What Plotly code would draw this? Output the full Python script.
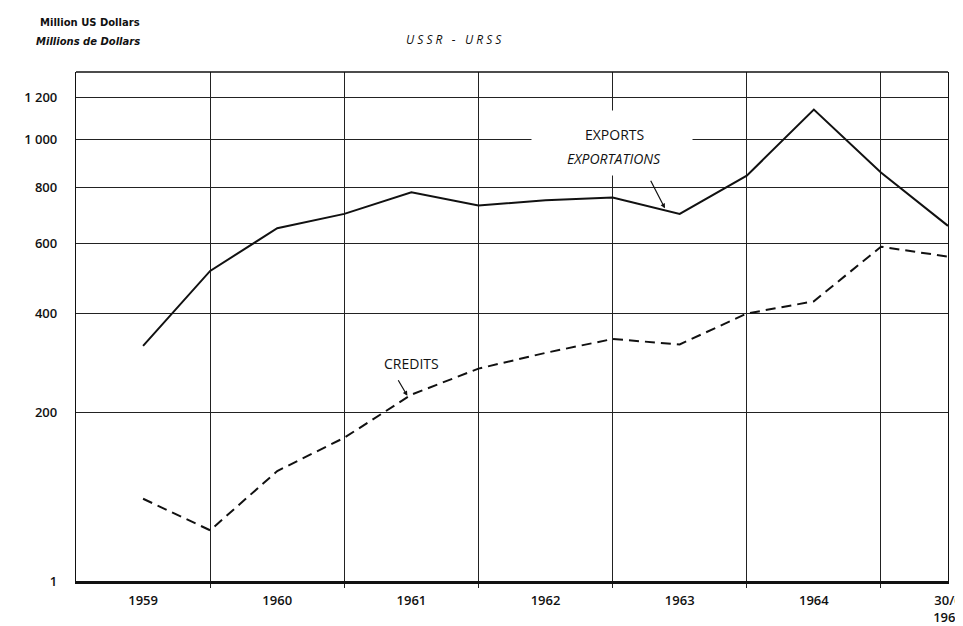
import plotly.graph_objects as go

# ---- data ----
periods = [1959.5, 1960.0, 1960.5, 1961.0, 1961.5, 1962.0, 1962.5,
           1963.0, 1963.5, 1964.0, 1964.5, 1965.0, 1965.5]
exports = [325, 515, 650, 700, 780, 730, 750, 760, 700, 845, 1140, 858, 658]
credits = [92, 65, 121, 163, 230, 278, 310, 340, 328, 400, 431, 589, 558]

x_label_pos = [1959.5, 1960.5, 1961.5, 1962.5, 1963.5, 1964.5, 1965.5]
x_labels = ["1959", "1960", "1961", "1962", "1963", "1964", "30/6<br>1965"]
year_bounds = [1960, 1961, 1962, 1963, 1964, 1965]

y_ticks = [200, 400, 600, 800, 1000, 1200]
y_tick_text = ["200", "400", "600", "800", "1 000", "1 200"]
axis_floor = 33.4      # bottom of the (broken) axis, labelled "1"
axis_top = 1334

# the original uses a compressed (power-like) vertical scale
P = 0.35
def scale(v):
    return v ** P

TICKFONT = "'Open Sans', 'DejaVu Sans', sans-serif"
SMALLFONT = "'DejaVu Sans', sans-serif"

fig = go.Figure()
fig.add_trace(go.Scatter(
    x=periods, y=[scale(v) for v in exports], mode="lines",
    line=dict(color="#111", width=2), name="Exports", showlegend=False))
fig.add_trace(go.Scatter(
    x=periods, y=[scale(v) for v in credits], mode="lines",
    line=dict(color="#111", width=2, dash="10px,6px"), name="Credits",
    showlegend=False))

fig.update_xaxes(
    range=[1959.0, 1965.5],
    tickmode="array", tickvals=x_label_pos, ticktext=x_labels,
    showgrid=False, ticks="", ticklabeloverflow="allow", ticklabelstandoff=6,
    tickfont=dict(family=TICKFONT, size=13, color="#111", weight=600),
    showline=True, linecolor="#111", linewidth=2.5, mirror=False,
    zeroline=False,
    minor=dict(tickvals=year_bounds, showgrid=True, gridcolor="#222",
               gridwidth=1.2, ticks="outside", ticklen=4, tickcolor="#222"),
)
fig.update_yaxes(
    range=[scale(axis_floor), scale(axis_top)],
    tickmode="array",
    tickvals=[scale(axis_floor)] + [scale(v) for v in y_ticks],
    ticktext=["1"] + y_tick_text,
    showgrid=True, gridcolor="#222", gridwidth=1.2,
    ticks="", ticklabelstandoff=15,
    tickfont=dict(family=TICKFONT, size=13, color="#111", weight=600),
    showline=True, linecolor="#111", linewidth=1.3, mirror=True,
    zeroline=False,
)

def px_x(p):
    return (p - 68) / 887.0

def px_y(p):
    return (579 - p) / 515.0

annotations = [
    dict(text="Million US Dollars", x=px_x(135), y=px_y(14), xref="paper", yref="paper",
         xanchor="right", yanchor="middle", showarrow=False,
         font=dict(family=SMALLFONT, size=10, color="#111", weight="bold")),
    dict(text="<i>Millions de Dollars</i>", x=px_x(135), y=px_y(33), xref="paper", yref="paper",
         xanchor="right", yanchor="middle", showarrow=False,
         font=dict(family=SMALLFONT, size=10, color="#111", weight="bold")),
    dict(text="<i>U S S R  &nbsp;-&nbsp;  U R S S</i>", x=px_x(453), y=px_y(31),
         xref="paper", yref="paper", xanchor="center", yanchor="middle", showarrow=False,
         font=dict(family=TICKFONT, size=12, color="#111")),
    # white patch behind the EXPORTS label (interrupts the grid as in the original)
    dict(text=" ", x=px_x(613), y=px_y(136), xref="paper", yref="paper",
         xanchor="center", yanchor="middle", showarrow=False,
         bgcolor="white", width=158, height=62),
    dict(text="EXPORTS", x=px_x(616), y=px_y(127), xref="paper", yref="paper",
         xanchor="center", yanchor="middle", showarrow=False,
         font=dict(family=TICKFONT, size=14, color="#111")),
    dict(text="<i>EXPORTATIONS</i>", x=px_x(615), y=px_y(152), xref="paper", yref="paper",
         xanchor="center", yanchor="middle", showarrow=False,
         font=dict(family=TICKFONT, size=14, color="#111")),
    dict(text="CREDITS", x=px_x(409), y=px_y(359), xref="paper", yref="paper",
         xanchor="center", yanchor="middle", showarrow=False,
         font=dict(family=TICKFONT, size=14, color="#111")),
    # arrows
    dict(text="", x=1963.39, y=scale(720), xref="x", yref="y",
         showarrow=True, ax=-15, ay=-29, arrowhead=2, arrowsize=0.8,
         arrowwidth=1.2, arrowcolor="#111"),
    dict(text="", x=1961.47, y=scale(228), xref="x", yref="y",
         showarrow=True, ax=-10, ay=-17, arrowhead=2, arrowsize=0.8,
         arrowwidth=1.2, arrowcolor="#111"),
]

fig.update_layout(
    width=963, height=626,
    margin=dict(l=68, r=8, t=64, b=47),
    paper_bgcolor="white", plot_bgcolor="white",
    annotations=annotations,
    shapes=[dict(type="line", xref="paper", yref="paper", x0=0, x1=1, y0=1, y1=1,
                 line=dict(color="#111", width=1.3))],
)

fig.write_html("out.html")
